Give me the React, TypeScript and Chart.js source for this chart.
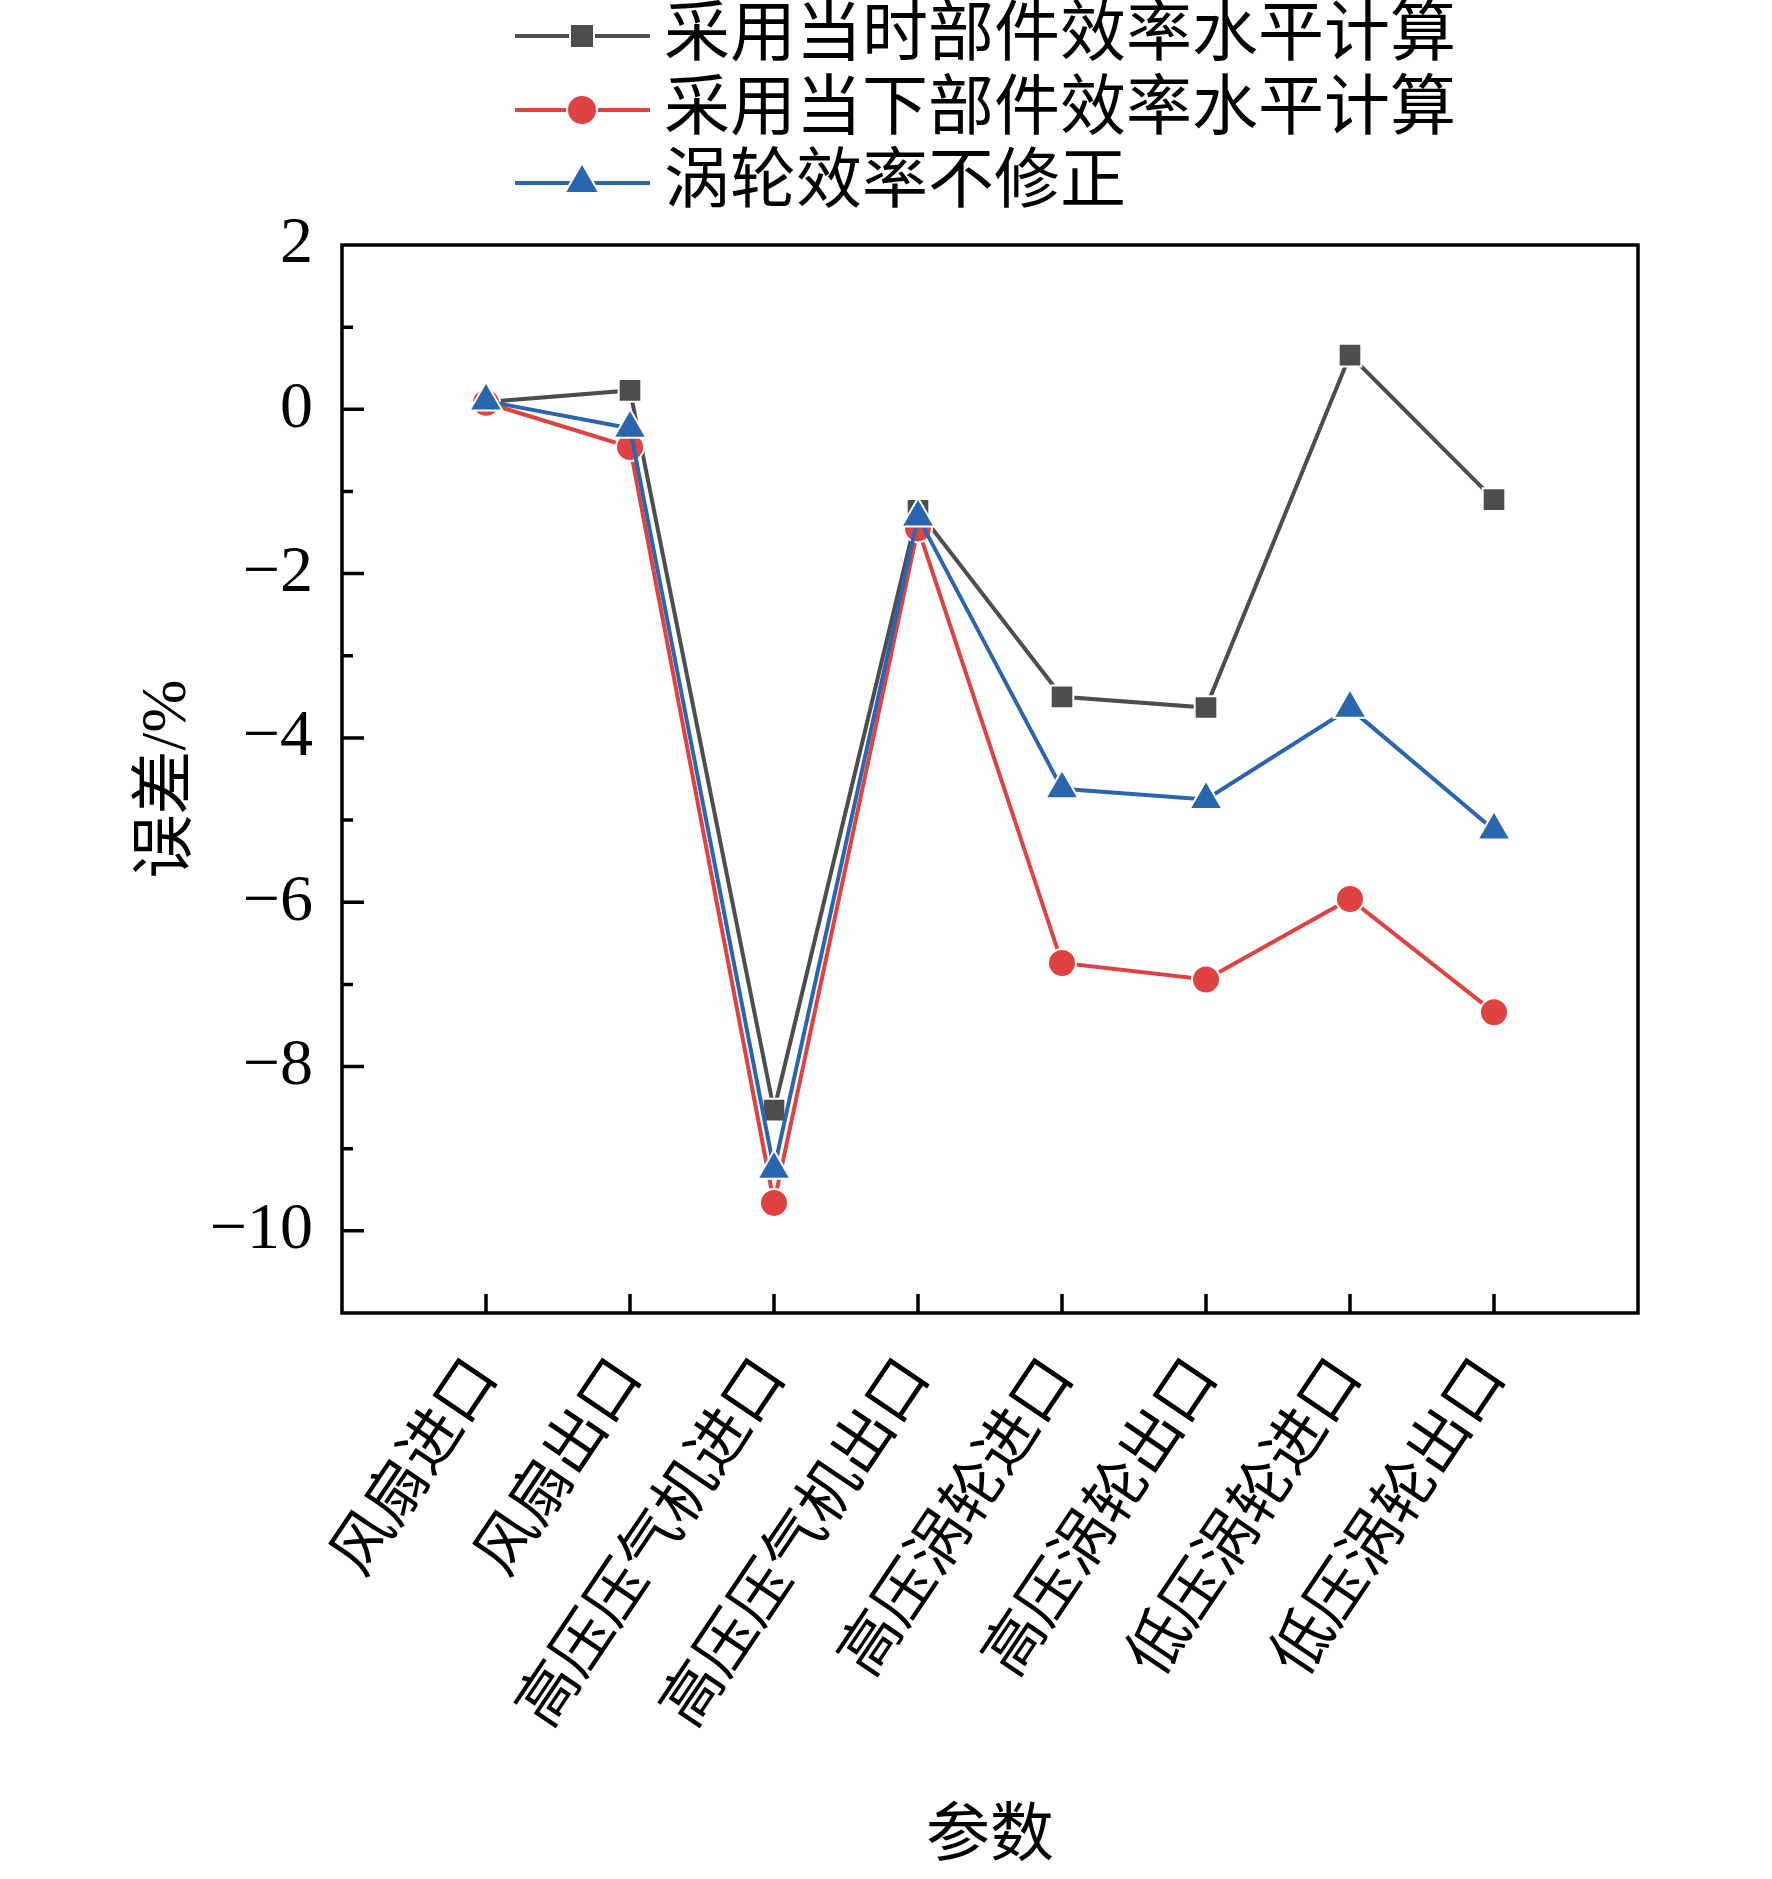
import { useEffect, useRef } from 'react';
import Chart from 'chart.js/auto';

const categories = [
  '风扇进口',
  '风扇出口',
  '高压压气机进口',
  '高压压气机出口',
  '高压涡轮进口',
  '高压涡轮出口',
  '低压涡轮进口',
  '低压涡轮出口',
];

const seriesNames = [
  '采用当时部件效率水平计算',
  '采用当下部件效率水平计算',
  '涡轮效率不修正',
];

// 误差 (%)
const thenValues = [0.09, 0.23, -8.53, -1.23, -3.5, -3.63, 0.66, -1.1];
const nowValues = [0.08, -0.46, -9.66, -1.45, -6.74, -6.94, -5.96, -7.34];
const noCorrValues = [0.1, -0.23, -9.25, -1.31, -4.62, -4.75, -3.64, -5.12];

const yMin = -11;
const yMax = 2;

const colors = ['#4d4d4d', '#e04141', '#2a66b0'];
const markers = ['rect', 'circle', 'triangle'] as const;
const markerRadius = [16, 14, 19];

const FONT = "'Liberation Serif', 'Noto Sans CJK SC', serif";

function fmt(v: number) {
  return v < 0 ? '\u2212' + Math.abs(v) : String(v);
}

function drawMarker(ctx: CanvasRenderingContext2D, style: string, x: number, y: number, r: number, color: string) {
  ctx.save();
  ctx.fillStyle = color;
  ctx.strokeStyle = '#fff';
  ctx.lineWidth = 2;
  ctx.beginPath();
  if (style === 'rect') {
    const s = Math.SQRT1_2 * r;
    ctx.rect(x - s, y - s, 2 * s, 2 * s);
  } else if (style === 'circle') {
    ctx.arc(x, y, r, 0, Math.PI * 2);
  } else {
    const side = (3 * r) / Math.sqrt(3);
    const h = (side * Math.sqrt(3)) / 2;
    ctx.moveTo(x - side / 2, y + h / 3);
    ctx.lineTo(x + side / 2, y + h / 3);
    ctx.lineTo(x, y - (2 * h) / 3);
    ctx.closePath();
  }
  ctx.fill();
  ctx.stroke();
  ctx.restore();
}

// frame, inward ticks and the stacked legend
const decorPlugin = {
  id: 'decor',
  afterDraw(chart: any) {
    const { ctx, chartArea } = chart;
    const { left, right, top, bottom } = chartArea;
    const xs = chart.scales.x;
    const ys = chart.scales.y;
    ctx.save();
    ctx.strokeStyle = '#000';
    ctx.lineWidth = 3.5;
    ctx.lineCap = 'square';
    ctx.strokeRect(left, top, right - left, bottom - top);
    ctx.lineCap = 'butt';
    ctx.beginPath();
    for (let v = yMin + 1; v < yMax; v++) {
      const py = ys.getPixelForValue(v);
      const len = v % 2 === 0 ? 22 : 11;
      ctx.moveTo(left, py);
      ctx.lineTo(left + len, py);
    }
    categories.forEach((_, i) => {
      const px = xs.getPixelForValue(i);
      ctx.moveTo(px, bottom);
      ctx.lineTo(px, bottom - 19);
    });
    ctx.stroke();

    // legend
    const rowY = [36, 110, 183];
    seriesNames.forEach((name, i) => {
      const y = rowY[i];
      ctx.strokeStyle = colors[i];
      ctx.lineWidth = 4;
      ctx.beginPath();
      ctx.moveTo(515, y);
      ctx.lineTo(650, y);
      ctx.stroke();
      drawMarker(ctx, markers[i], 582, y, markerRadius[i] + 1, colors[i]);
      ctx.fillStyle = '#000';
      ctx.font = `66px ${FONT}`;
      ctx.textAlign = 'left';
      ctx.textBaseline = 'middle';
      ctx.fillText(name, 664, y + 2);
    });
    ctx.restore();
  },
};

export default function App() {
  const canvasRef = useRef<HTMLCanvasElement>(null);
  const chartRef = useRef<Chart | null>(null);

  useEffect(() => {
    document.body.style.margin = '0';
    if (!canvasRef.current) return;
    const ctx = canvasRef.current.getContext('2d');
    if (!ctx) return;
    if (chartRef.current) chartRef.current.destroy();

    const seriesValues = [thenValues, nowValues, noCorrValues];
    const orders = [2, 1, 0];

    chartRef.current = new Chart(ctx, {
      type: 'line',
      data: {
        datasets: seriesValues.map((vals, i) => ({
          label: seriesNames[i],
          data: vals.map((v, j) => ({ x: j, y: v })),
          borderColor: colors[i],
          backgroundColor: colors[i],
          borderWidth: 4,
          pointStyle: markers[i],
          pointRadius: markerRadius[i],
          pointHoverRadius: markerRadius[i],
          pointBackgroundColor: colors[i],
          pointBorderColor: '#fff',
          pointBorderWidth: 2,
          tension: 0,
          order: orders[i],
        })),
      },
      options: {
        animation: false,
        responsive: true,
        maintainAspectRatio: false,
        layout: { padding: { top: 245, right: 134, bottom: 0, left: 0 } },
        plugins: {
          legend: { display: false },
          tooltip: { enabled: false },
        },
        scales: {
          x: {
            type: 'linear',
            min: -1,
            max: 8,
            grid: { display: false, drawTicks: false },
            border: { display: false },
            afterFit: (scale: any) => {
              scale.height = 566;
            },
            ticks: {
              stepSize: 1,
              autoSkip: false,
              minRotation: 56,
              maxRotation: 56,
              padding: 34,
              color: '#000',
              font: { family: FONT, size: 61 },
              callback: (v: any) => {
                const i = Number(v);
                return Number.isInteger(i) && i >= 0 && i < categories.length ? categories[i] : '';
              },
            },
            title: {
              display: true,
              text: '参数',
              color: '#000',
              font: { family: FONT, size: 64 },
              padding: { top: 0, bottom: 2 },
            },
          },
          y: {
            type: 'linear',
            min: yMin,
            max: yMax,
            grid: { display: false, drawTicks: false },
            border: { display: false },
            afterFit: (scale: any) => {
              scale.width = 342;
            },
            ticks: {
              stepSize: 1,
              autoSkip: false,
              padding: 29,
              color: '#000',
              font: { family: FONT, size: 66 },
              callback: (v: any) => {
                const n = Number(v);
                return n % 2 === 0 ? fmt(n) : '';
              },
            },
            title: {
              display: true,
              text: '误差/%',
              color: '#000',
              font: { family: FONT, size: 64 },
              padding: { top: 130, bottom: 0 },
            },
          },
        },
      },
      plugins: [decorPlugin],
    });

    return () => {
      if (chartRef.current) {
        chartRef.current.destroy();
        chartRef.current = null;
      }
    };
  }, []);

  return (
    <div style={{ width: 1772, height: 1879, position: 'relative', background: '#fff' }}>
      <canvas ref={canvasRef} />
    </div>
  );
}
